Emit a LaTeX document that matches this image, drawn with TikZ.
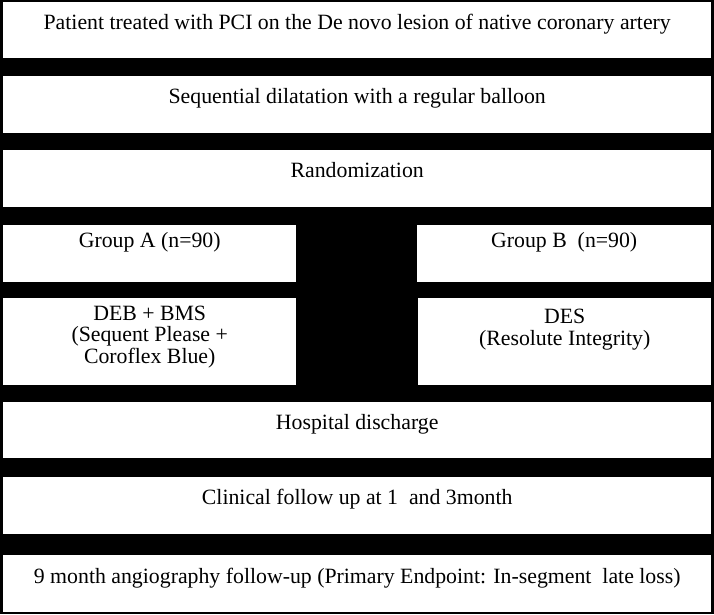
\documentclass[tikz,border=0pt]{standalone}
\usepackage{fontspec}
\setmainfont{Liberation Serif}
\usetikzlibrary{positioning}

\tikzset{
  stagebox/.style={fill=white, inner sep=0pt, anchor=north west},
  wide/.style={stagebox, minimum width=708pt},
  half/.style={stagebox, minimum width=293pt},
  stagetext/.style={font=\fontsize{21.8}{21.5}\selectfont, inner sep=0pt,
    align=center, anchor=base},
}

\begin{document}
\begin{tikzpicture}[x=1pt,y=-1pt]
  \fill[black] (0,0) rectangle (714,614);

  \node[wide, minimum height=56pt] (patient) at (3,2) {};
  \node[wide, minimum height=57pt] (dilatation) at (3,76) {};
  \node[wide, minimum height=57pt] (random) at (3,150) {};
  \node[half, minimum height=57pt] (groupA) at (3,225) {};
  \node[half, minimum height=57pt, minimum width=294pt] (groupB) at (417,225) {};
  \node[half, minimum height=87pt] (debbms) at (3,298) {};
  \node[half, minimum height=87pt] (des) at (418,298) {};
  \node[wide, minimum height=56pt] (discharge) at (3,402) {};
  \node[wide, minimum height=57pt] (clinical) at (3,477) {};
  \node[wide, minimum height=57pt] (angio) at (3,555) {};

  % multi-line texts sit on their last line
  \node[stagetext] (patientT) at ([yshift=-27pt]patient.north)
    {Patient treated with PCI on the De novo lesion of native coronary artery};
  \node[stagetext] (dilatationT) at ([yshift=-27pt]dilatation.north)
    {Sequential dilatation with a regular balloon};
  \node[stagetext] (randomT) at ([yshift=-27pt]random.north) {Randomization};
  \node[stagetext] (groupAT) at ([yshift=-22pt]groupA.north) {Group A (n=90)};
  \node[stagetext] (groupBT) at ([yshift=-22pt]groupB.north) {Group B\ \ (n=90)};
  \node[stagetext] (debbmsT) at ([yshift=-65pt]debbms.north)
    {DEB + BMS\\(Sequent Please +\\Coroflex Blue)};
  \node[stagetext] (desT) at ([yshift=-47pt]des.north)
    {DES\\(Resolute Integrity)};
  \node[stagetext] (dischargeT) at ([yshift=-27pt]discharge.north) {Hospital discharge};
  \node[stagetext] (clinicalT) at ([yshift=-27pt]clinical.north)
    {Clinical follow up at 1\ \ and 3month};
  \node[stagetext] (angioT) at ([yshift=-28pt]angio.north)
    {9 month angiography follow-up (Primary Endpoint: In-segment\ \ late loss)};
\end{tikzpicture}
\end{document}
